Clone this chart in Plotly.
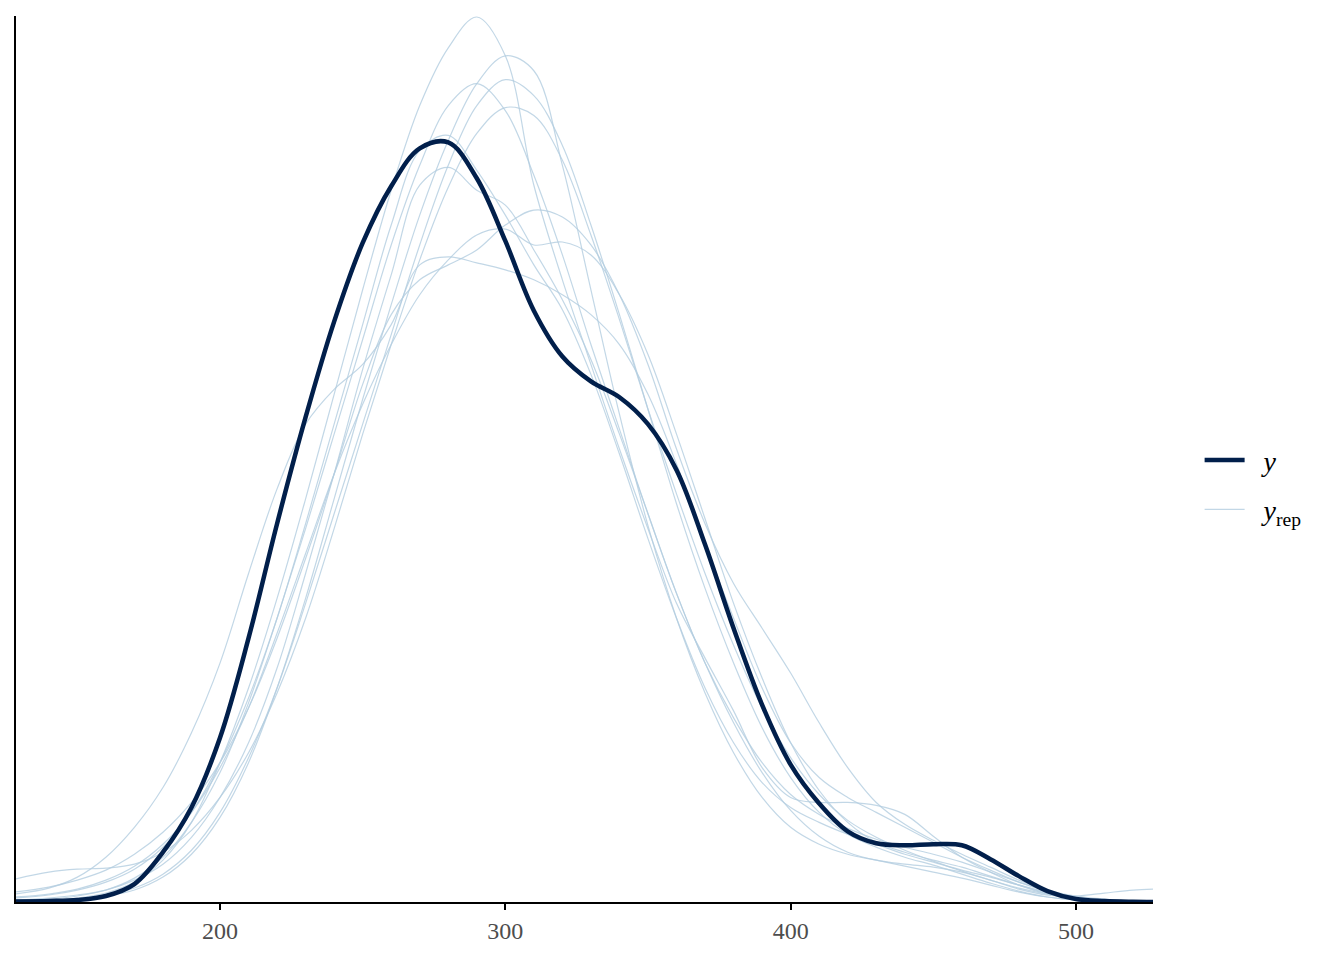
import plotly.graph_objects as go

# density curves, heights in units of 1e-5
x_grid = [128, 140, 150, 160, 170, 180, 190, 200, 210, 220, 230, 240, 250, 260, 270, 280,
          290, 300, 310, 320, 330, 340, 350, 360, 370, 380, 390, 400, 410, 420, 430, 440,
          450, 460, 470, 480, 490, 500, 510, 520, 528]

y_obs = [0.5, 1, 2, 6, 18, 50, 95, 165, 265, 380, 487, 583, 662, 719, 757, 763,
         727, 664, 594, 548, 523, 507, 480, 434, 359, 275, 198, 138, 99, 71, 59, 57,
         58, 57, 43, 26, 11, 3, 1, 0.3, 0.1]

yrep_a = [1, 2, 4, 9, 20, 42, 80, 140, 215, 305, 405, 510, 615, 715, 800, 858,
          889, 850, 720, 625, 540, 455, 375, 300, 245, 192, 135, 105, 100, 100, 97, 88,
          66, 45, 30, 17, 8, 3, 1, 0.5, 0.3]
yrep_b = [1, 2, 3, 6, 12, 25, 48, 85, 140, 215, 305, 405, 505, 600, 690, 765,
          822, 850, 835, 740, 615, 490, 378, 285, 210, 150, 105, 75, 58, 48, 42, 36,
          30, 24, 17, 10, 5, 2, 1, 0.5, 0.3]
yrep_c = [1, 1, 3, 6, 14, 28, 52, 90, 145, 215, 300, 390, 480, 570, 660, 740,
          800, 826, 810, 760, 680, 590, 495, 400, 315, 240, 175, 125, 90, 68, 55, 45,
          37, 28, 19, 11, 5, 2, 1, 0.5, 0.2]
yrep_d = [2, 3, 6, 12, 24, 45, 80, 130, 200, 285, 375, 470, 565, 660, 740, 800,
          822, 795, 730, 650, 560, 475, 390, 310, 240, 180, 130, 92, 66, 50, 42, 38,
          35, 30, 22, 13, 7, 6, 9, 12, 13]
yrep_e = [23, 30, 33, 34, 38, 50, 72, 105, 150, 210, 285, 375, 470, 560, 645, 718,
          772, 798, 790, 745, 670, 585, 495, 410, 330, 258, 195, 145, 108, 82, 65, 52,
          41, 31, 22, 14, 8, 4, 2, 1, 0.5]
yrep_f = [4, 7, 12, 20, 33, 55, 90, 140, 205, 285, 380, 480, 580, 680, 755, 770,
          735, 690, 640, 595, 530, 450, 365, 285, 215, 160, 120, 95, 80, 68, 58, 48,
          40, 32, 25, 17, 10, 5, 2, 1, 0.5]
yrep_g = [2, 4, 7, 12, 22, 38, 65, 105, 160, 235, 330, 430, 535, 630, 720, 738,
          715, 700, 655, 605, 545, 470, 390, 310, 240, 185, 140, 108, 88, 74, 63, 55,
          48, 40, 30, 20, 11, 5, 2, 1, 0.5]
yrep_h = [10, 15, 22, 32, 48, 70, 100, 140, 195, 265, 345, 430, 520, 590, 625, 640,
          655, 680, 695, 688, 660, 610, 540, 455, 380, 320, 275, 230, 180, 135, 100, 78,
          62, 48, 35, 22, 12, 6, 3, 1, 0.5]
yrep_i = [8, 14, 25, 45, 75, 115, 170, 240, 330, 415, 480, 515, 540, 580, 640, 648,
          642, 635, 625, 610, 590, 560, 510, 440, 360, 285, 215, 160, 125, 105, 90, 75,
          60, 45, 32, 20, 11, 5, 2, 1, 0.5]
yrep_k = [5, 8, 13, 22, 36, 58, 90, 135, 195, 270, 350, 430, 500, 560, 610, 645,
          670, 676, 660, 663, 650, 610, 550, 470, 385, 300, 225, 160, 112, 80, 60, 50,
          42, 35, 26, 17, 9, 4, 2, 1, 0.5]

yrep_all = [yrep_a, yrep_b, yrep_c, yrep_d, yrep_e, yrep_f, yrep_g, yrep_h, yrep_i, yrep_k]
x_ticks = [200, 300, 400, 500]

serif = "Liberation Serif, Times New Roman, serif"

fig = go.Figure()
for i, rep in enumerate(yrep_all):
    fig.add_trace(go.Scatter(
        x=x_grid, y=[v / 1e5 for v in rep], mode="lines",
        line=dict(color="rgba(179,205,224,0.8)", width=1.2, shape="spline"),
        name="\u00a0\u00a0<i>y</i><sub>rep</sub>", legendgroup="yrep", legendrank=2,
        showlegend=(i == 0), hoverinfo="skip"))

fig.add_trace(go.Scatter(
    x=x_grid, y=[v / 1e5 for v in y_obs], mode="lines",
    line=dict(color="#011f4b", width=4.5, shape="spline"),
    name="\u00a0\u00a0<i>y</i>", legendrank=1))

# page body adds an 8px offset, so the figure is a bit smaller than the window
fig.update_layout(
    width=1328, height=944,
    plot_bgcolor="white", paper_bgcolor="white",
    margin=dict(l=8, r=183, t=8, b=44),
    font=dict(family=serif),
    legend=dict(x=1.041, y=0.471, xanchor="left", yanchor="middle",
                font=dict(size=28, color="black", family=serif),
                itemwidth=40, tracegroupgap=10, bgcolor="rgba(0,0,0,0)"),
)
fig.update_xaxes(range=[128.5, 527], tickvals=x_ticks, showgrid=False, zeroline=False,
                 showline=True, linecolor="black", linewidth=2,
                 ticks="outside", ticklen=6, tickwidth=1.5, tickcolor="black",
                 tickfont=dict(size=24, color="#4d4d4d", family=serif))
fig.update_yaxes(range=[0, 0.0089], showgrid=False, zeroline=False, showticklabels=False,
                 showline=True, linecolor="black", linewidth=2, ticks="")

fig.write_html("out.html")
